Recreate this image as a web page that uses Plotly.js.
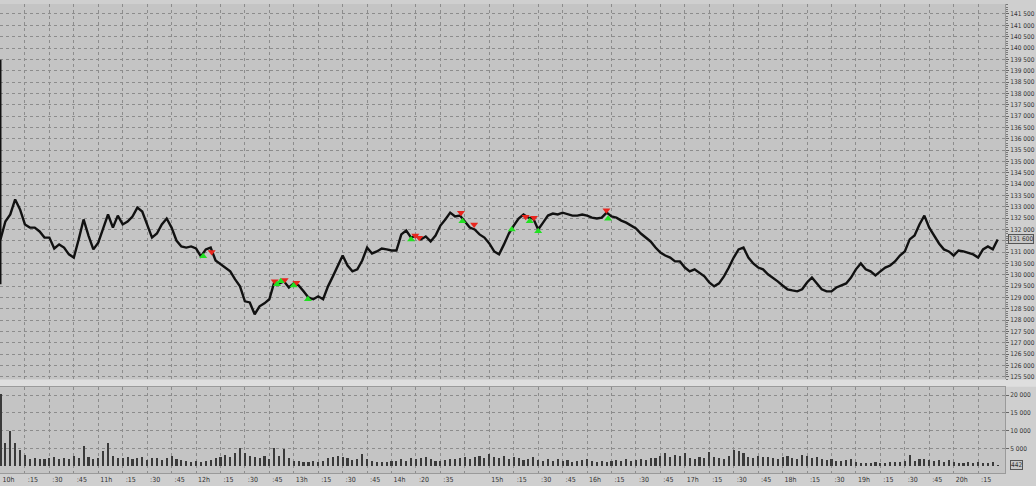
<!DOCTYPE html>
<html>
<head>
<meta charset="utf-8">
<script src="https://cdn.plot.ly/plotly-3.0.1.min.js"></script>
<style>html,body{margin:0;padding:0;background:#cfcfcf;}#chart{width:1036px;height:486px;}</style>
</head>
<body>
<div id="chart"></div>
<script>
// bar index in minutes since 10:00 (3-minute sampling)
const barStep = 3;
const closes = [
131560,132350,132660,133320,132880,132220,132080,132080,131910,131640,
131640,131160,131340,131200,130900,130760,131560,132440,131730,131120,
131420,132080,132660,132080,132610,132220,132350,132570,132960,132790,
132220,131640,131820,132220,132480,132080,131510,131250,131200,131250,
131160,130810,131120,131200,130630,130460,130320,130150,129800,129490,
128830,128780,128260,128610,128740,128920,129660,129620,129710,129440,
129620,129530,129270,129000,128920,129050,128920,129490,129930,130370,
130850,130410,130150,130240,130630,131200,130940,131030,131160,131120,
131070,131070,131780,131950,131640,131730,131560,131690,131470,131730,
132170,132440,132740,132570,132610,132350,132080,132000,131780,131640,
131380,131030,130900,131340,131820,132170,132480,132660,132520,132480,
132000,132300,132610,132700,132660,132740,132660,132610,132610,132660,
132610,132520,132480,132520,132740,132570,132520,132390,132300,132170,
132040,131820,131640,131470,131200,130980,130850,130760,130590,130590,
130320,130150,130240,130100,129930,129660,129490,129620,129930,130320,
130760,131120,131200,130760,130500,130320,130240,130020,129880,129710,
129530,129360,129310,129270,129360,129660,129880,129620,129360,129270,
129270,129440,129530,129620,129880,130240,130500,130240,130150,129970,
130150,130320,130410,130590,130850,131030,131560,131730,132220,132610,
132080,131730,131380,131120,131030,130850,131070,131030,130980,130900,
130760,131120,131250,131120,131560
];
const volumes = [
20300,6400,10000,6400,4500,3100,2100,2300,2000,1900,
2200,2600,2100,2400,1900,2800,2200,5600,2600,2000,
2300,4200,6600,3000,2400,2200,2500,1900,2300,2600,
1800,2400,2200,1700,2300,2900,2100,1800,1500,1100,
1600,1200,1400,1700,2200,2600,3200,2500,3600,5000,
3800,3000,2600,2400,2800,1900,5000,2800,4700,2200,
1500,1400,1300,1200,1500,1300,1600,2200,2700,3000,
2600,2300,1800,2100,3500,2000,1400,1200,1300,1100,
1400,1600,1900,1500,2200,2000,2400,2700,2100,1600,
1500,1800,2000,1900,2200,2500,2000,2600,2800,2300,
3500,2700,2400,2900,2100,2600,2200,1800,2100,2500,
1700,1500,1900,1600,2100,1400,1700,1300,1500,1800,
2000,1500,1300,1400,1200,1500,1700,1400,1900,1600,
1800,2000,1700,2200,2400,2900,3600,2600,3100,2800,
3800,2400,2100,2700,2300,4000,2600,2200,2000,2800,
4500,4400,3800,2600,2400,2900,2700,2500,2200,2000,
2700,3000,2300,2100,3200,2800,2200,2500,2000,1800,
1900,1600,1500,1800,2100,1300,1000,900,1000,1100,
900,1000,1200,1100,1300,1500,3200,1600,1900,2000,
1700,1500,1800,1300,1700,1200,1000,900,1100,1000,
1200,1000,900,1100,442
];
const firstBarHigh = 139480;
const firstBarLow = 129580;
const sellTimes = [129.6,168.3,174.4,181.6,254.6,257.0,282.6,290.7,322.3,327.4,371.9];
const sellPrices = [131000,129720,129770,129650,131730,131630,132730,132220,132560,132510,132850];
const buyTimes = [124.4,169.7,172.0,179.9,188.7,252.0,283.5,313.8,324.8,330.0,372.9];
const buyPrices = [130820,129580,129720,129530,128920,131560,132360,132000,132360,131920,132470];
const tickTimes = [0,15,30,45,60,75,90,105,120,135,150,165,180,195,210,225,240,255,270,285,300,315,330,345,360,375,390,405,420,435,450,465,480,495,510,525,540,555,570,585,600];
const tickLabels = ['10h',':15',':30',':45','11h',':15',':30',':45','12h',':15',':30',':45','13h',':15',':30',':45','14h',':20',':35','','15h',':15',':30',':45','16h',':15',':30',':45','17h',':15',':30',':45','18h',':15',':30','19h',':15',':30',':45','20h',':15'];
const priceTicks = [125500,126000,126500,127000,127500,128000,128500,129000,129500,130000,130500,131000,131500,132000,132500,133000,133500,134000,134500,135000,135500,136000,136500,137000,137500,138000,138500,139000,139500,140000,140500,141000,141500];
const volumeTicks = [5000,10000,15000,20000];
const lastPrice = 131600;
const lastVolume = 442;

const times = closes.map((_, i) => i * barStep);
const fmt = v => String(v).replace(/\B(?=(\d{3})+(?!\d))/g, ' ');
// the last-price box hides the tick label it covers
const priceTickText = priceTicks.map(v => Math.abs(v - lastPrice) < 250 ? '' : fmt(v));

const FAMILY = 'DejaVu Sans Condensed, Liberation Sans Narrow, Arial Narrow, sans-serif';
const YFONT = {family: FAMILY, size: 6.5, color: '#333333'};
const XFONT = {family: FAMILY, size: 7, color: '#333333'};
const GRID = '#8c8c8c';

const traces = [
  {type: 'scatter', mode: 'lines', x: [0, 0], y: [firstBarLow, firstBarHigh], xaxis: 'x', yaxis: 'y',
   line: {color: '#111111', width: 2}, hoverinfo: 'skip', showlegend: false},
  {type: 'scatter', mode: 'lines', x: times, y: closes, xaxis: 'x', yaxis: 'y',
   line: {color: '#111111', width: 2.4}, showlegend: false},
  {type: 'scatter', mode: 'markers', x: sellTimes, y: sellPrices, xaxis: 'x', yaxis: 'y',
   marker: {symbol: 'triangle-down', size: 7, color: '#e8261e'}, showlegend: false},
  {type: 'scatter', mode: 'markers', x: buyTimes, y: buyPrices, xaxis: 'x', yaxis: 'y',
   marker: {symbol: 'triangle-up', size: 7, color: '#22e022'}, showlegend: false},
  {type: 'bar', x: times, y: volumes, xaxis: 'x', yaxis: 'y2', width: 1.3,
   marker: {color: '#3a3a3a', line: {width: 0}}, showlegend: false}
];

const layout = {
  width: 1036, height: 486,
  margin: {l: 0, r: 31, t: 4, b: 13},
  paper_bgcolor: '#cfcfcf',
  plot_bgcolor: '#c4c4c4',
  font: YFONT,
  showlegend: false,
  bargap: 0,
  xaxis: {
    range: [-0.3, 616.5], anchor: 'y2',
    tickmode: 'array', tickvals: tickTimes, ticktext: tickLabels,
    ticks: '', ticklabelshift: 8, ticklabelstandoff: 0,
    showgrid: true, gridcolor: GRID, griddash: 'dot', gridwidth: 1,
    zeroline: false, showline: true, linecolor: '#9a9a9a', mirror: true,
    tickfont: XFONT
  },
  yaxis: {
    domain: [0.2, 1], side: 'right', range: [125396, 141940],
    tickmode: 'array', tickvals: priceTicks, ticktext: priceTickText,
    ticks: 'outside', ticklen: 3, tickcolor: '#666666',
    minor: {ticks: 'outside', ticklen: 2, tickcolor: '#777777', dtick: 100, showgrid: false},
    ticklabelstandoff: 0,
    showgrid: true, gridcolor: GRID, griddash: 'dot', gridwidth: 1,
    zeroline: false, showline: true, linecolor: '#9a9a9a', mirror: true,
    tickfont: YFONT
  },
  yaxis2: {
    domain: [0, 0.183], side: 'right', range: [-1900, 22200],
    tickmode: 'array', tickvals: volumeTicks, ticktext: volumeTicks.map(fmt),
    ticks: 'outside', ticklen: 3, tickcolor: '#666666', ticklabelstandoff: 0,
    showgrid: true, gridcolor: GRID, griddash: 'dot', gridwidth: 1,
    zeroline: false, showline: true, linecolor: '#9a9a9a', mirror: true,
    tickfont: YFONT
  },
  shapes: [
    {type: 'rect', xref: 'paper', yref: 'paper', x0: -0.01, x1: 1.04, y0: 0.184, y1: 0.199,
     fillcolor: '#dedede', line: {width: 0}, layer: 'below'}
  ],
  annotations: [
    {xref: 'paper', yref: 'y', x: 1, y: lastPrice, xanchor: 'left', xshift: 3,
     text: fmt(lastPrice), showarrow: false,
     font: YFONT, bordercolor: '#555555', borderwidth: 1, borderpad: 0, bgcolor: '#c8c8c8'},
    {xref: 'paper', yref: 'y2', x: 1, y: lastVolume, xanchor: 'left', xshift: 5,
     text: String(lastVolume), showarrow: false,
     font: YFONT, bordercolor: '#555555', borderwidth: 1, borderpad: 0, bgcolor: '#c8c8c8'}
  ]
};

Plotly.newPlot('chart', traces, layout, {staticPlot: true, displayModeBar: false});
</script>
</body>
</html>
